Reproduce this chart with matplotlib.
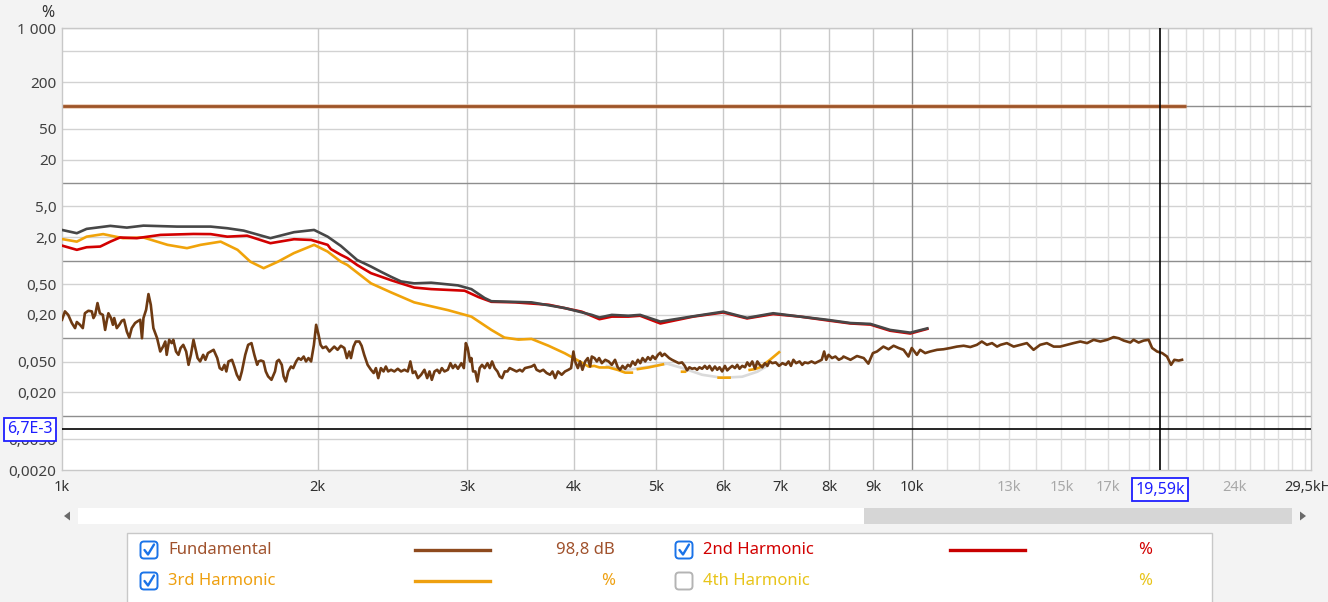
import numpy as np
import matplotlib.pyplot as plt
from matplotlib.patches import Rectangle, FancyBboxPatch, Polygon
from matplotlib.lines import Line2D
from matplotlib.transforms import blended_transform_factory

plt.rcParams['font.family'] = ['Noto Sans', 'DejaVu Sans']

# --- DATA (frequency in Hz, level in %) ---
fund_pct = 100.0
fund_hz = [1000, 21000]

noise_hz = [
    1000, 1008, 1017, 1027, 1036, 1041, 1050, 1058, 1064, 1074, 1084, 1089, 1094, 1101, 1108,
    1117, 1124, 1129, 1134, 1142, 1148, 1152, 1160, 1168, 1176, 1183, 1192, 1200, 1208, 1219,
    1227, 1236, 1242, 1247, 1256, 1264, 1272, 1281, 1294, 1305, 1315, 1323, 1328, 1337, 1346,
    1352, 1362, 1371, 1379, 1389, 1400, 1409, 1418, 1428, 1435, 1444, 1454, 1466, 1475, 1485,
    1496, 1508, 1523, 1533, 1543, 1553, 1561, 1570, 1585, 1595, 1606, 1618, 1628, 1643, 1656,
    1671, 1684, 1697, 1703, 1714, 1726, 1737, 1748, 1764, 1781, 1790, 1800, 1814, 1823, 1834,
    1846, 1860, 1871, 1886, 1898, 1911, 1925, 1937, 1950, 1964, 1979, 1991, 2004, 2015, 2027,
    2045, 2064, 2091, 2110, 2129, 2149, 2164, 2178, 2188, 2203, 2217, 2238, 2252, 2268, 2289,
    2310, 2327, 2341, 2356, 2373, 2390, 2405, 2420, 2439, 2461, 2484, 2506, 2529, 2552, 2570,
    2587, 2604, 2623, 2646, 2670, 2690, 2707, 2724, 2744, 2764, 2781, 2799, 2819, 2845, 2865,
    2884, 2902, 2924, 2951, 2971, 2987, 3002, 3021, 3032, 3046, 3065, 3082, 3101, 3121, 3143,
    3167, 3187, 3207, 3230, 3254, 3274, 3295, 3319, 3343, 3364, 3395, 3427, 3458, 3481, 3506,
    3539, 3569, 3596, 3618, 3651, 3684, 3718, 3753, 3777, 3805, 3834, 3873, 3908, 3944, 3973,
    3998, 4016, 4046, 4071, 4097, 4127, 4157, 4183, 4202, 4233, 4260, 4286, 4318, 4358, 4398,
    4436, 4475, 4508, 4537, 4567, 4600, 4634, 4663, 4693, 4727, 4761, 4792, 4822, 4857, 4893,
    4924, 4955, 4991, 5027, 5058, 5082, 5118, 5150, 5182, 5222, 5270, 5319, 5366, 5406, 5440,
    5474, 5514, 5555, 5590, 5625, 5666, 5708, 5744, 5781, 5823, 5866, 5903, 5940, 5983, 6027,
    6065, 6104, 6148, 6193, 6232, 6271, 6317, 6364, 6404, 6445, 6491, 6539, 6581, 6623, 6670,
    6719, 6761, 6804, 6854, 6917, 6980, 7043, 7108, 7161, 7208, 7256, 7310, 7378, 7432, 7481,
    7551, 7621, 7693, 7764, 7835, 7887, 7931, 7982, 8056, 8131, 8206, 8282, 8310, 8470, 8620,
    8780, 8890, 9000, 9100, 9260, 9390, 9520, 9650, 9780, 9910, 10000, 10140, 10230, 10370, 10510,
    10710, 10900, 11100, 11300, 11510, 11720, 11930, 12090, 12260, 12430, 12600, 12720, 12940, 13180, 13420,
    13660, 13910, 14160, 14420, 14690, 14950, 15220, 15500, 15790, 16080, 16370, 16670, 16980, 17280, 17520,
    17760, 18080, 18240, 18490, 18750, 19000, 19180, 19440, 19710, 19970, 20190, 20370, 20610, 20800,
]
noise_pct = [
    0.173, 0.222, 0.200, 0.157, 0.135, 0.162, 0.149, 0.135, 0.210, 0.226, 0.222, 0.182, 0.200, 0.284, 0.210,
    0.200, 0.128, 0.168, 0.210, 0.182, 0.149, 0.182, 0.135, 0.149, 0.168, 0.173, 0.122, 0.102, 0.135, 0.157,
    0.165, 0.173, 0.100, 0.182, 0.233, 0.371, 0.270, 0.135, 0.100, 0.0674, 0.078, 0.0907, 0.0611, 0.0954, 0.0865,
    0.0954, 0.0674, 0.0611, 0.0748, 0.0822, 0.0674, 0.0454, 0.0611, 0.0954, 0.0748, 0.0555, 0.0502, 0.0611, 0.0527, 0.0643,
    0.0674, 0.0709, 0.0555, 0.0412, 0.0392, 0.0454, 0.0373, 0.0502, 0.0527, 0.0432, 0.0338, 0.0291, 0.0373, 0.0611, 0.0822,
    0.0865, 0.0611, 0.0454, 0.0502, 0.0516, 0.0502, 0.0373, 0.0322, 0.0291, 0.0373, 0.0502, 0.0527, 0.0454, 0.0322, 0.0277,
    0.0373, 0.0432, 0.0412, 0.0502, 0.0555, 0.0527, 0.0581, 0.0502, 0.0555, 0.0502, 0.0822, 0.149, 0.111, 0.0822, 0.0748,
    0.078, 0.0674, 0.078, 0.0709, 0.080, 0.0748, 0.0555, 0.0674, 0.0555, 0.078, 0.0907, 0.0907, 0.080, 0.0611, 0.0454,
    0.0392, 0.0356, 0.0412, 0.0306, 0.0412, 0.0373, 0.0432, 0.0373, 0.0392, 0.0373, 0.0404, 0.0373, 0.0392, 0.0373, 0.0502,
    0.0356, 0.0373, 0.0306, 0.0338, 0.0392, 0.0306, 0.0373, 0.0291, 0.0373, 0.0392, 0.0356, 0.0412, 0.0373, 0.0392, 0.0477,
    0.0412, 0.0454, 0.0404, 0.0477, 0.0412, 0.0865, 0.0748, 0.0502, 0.0555, 0.0373, 0.0373, 0.0277, 0.0412, 0.0454, 0.0412,
    0.0477, 0.0412, 0.0502, 0.0412, 0.0373, 0.0322, 0.0306, 0.0373, 0.0373, 0.0412, 0.0392, 0.0373, 0.0392, 0.0373, 0.0412,
    0.0422, 0.0432, 0.0454, 0.0392, 0.0373, 0.0392, 0.0356, 0.0338, 0.0373, 0.0306, 0.0373, 0.0338, 0.0373, 0.0392, 0.0412,
    0.0674, 0.0502, 0.0412, 0.0502, 0.0392, 0.0502, 0.0555, 0.0432, 0.0581, 0.0555, 0.0502, 0.0555, 0.0477, 0.0527, 0.0502,
    0.0454, 0.0527, 0.0422, 0.0392, 0.0440, 0.0404, 0.0454, 0.0432, 0.0502, 0.0454, 0.0527, 0.0477, 0.0555, 0.0502, 0.0570,
    0.0527, 0.0590, 0.0540, 0.0611, 0.0650, 0.0590, 0.0630, 0.0590, 0.0555, 0.0527, 0.0502, 0.0477, 0.0488, 0.0440, 0.0385,
    0.0422, 0.0404, 0.0412, 0.0392, 0.0422, 0.0404, 0.0440, 0.0404, 0.0440, 0.0385, 0.0432, 0.0392, 0.0422, 0.0373, 0.0440,
    0.0385, 0.0412, 0.0440, 0.0412, 0.0454, 0.0404, 0.0440, 0.0422, 0.0488, 0.0440, 0.0502, 0.0404, 0.0502, 0.0454, 0.0422,
    0.0477, 0.0440, 0.0502, 0.0477, 0.0488, 0.0440, 0.0477, 0.0454, 0.0502, 0.0440, 0.0527, 0.0477, 0.0502, 0.0454, 0.0488,
    0.0477, 0.0502, 0.0477, 0.0502, 0.0527, 0.0674, 0.0527, 0.0611, 0.0555, 0.0581, 0.0527, 0.0555, 0.0581, 0.0527, 0.0590,
    0.0555, 0.0470, 0.0643, 0.0674, 0.078, 0.0721, 0.0800, 0.0748, 0.0709, 0.0581, 0.0748, 0.0611, 0.0709, 0.0643, 0.0674,
    0.0709, 0.0721, 0.0748, 0.078, 0.0800, 0.0770, 0.0822, 0.0907, 0.0822, 0.0865, 0.078, 0.0822, 0.0865, 0.078, 0.0822,
    0.0865, 0.0709, 0.0822, 0.0865, 0.078, 0.078, 0.0822, 0.0865, 0.0907, 0.0865, 0.0954, 0.0907, 0.0954, 0.1035, 0.100,
    0.0933, 0.0880, 0.0954, 0.0880, 0.0933, 0.0954, 0.0748, 0.0674, 0.0643, 0.0581, 0.0454, 0.0527, 0.0515, 0.0527,
]

thd_hz = [1000, 1041, 1069, 1140, 1192, 1247, 1366, 1496, 1565, 1636, 1759, 1875, 1980, 2054, 2129,
          2167, 2225, 2310, 2373, 2439, 2506, 2597, 2719, 2924, 3032, 3143, 3201, 3569, 3905, 4202,
          4290, 4436, 4640, 4790, 5060, 5500, 6000, 6400, 6870, 7390, 7950, 8470, 8940, 9430, 9960, 10430]
thd_pct = [2.49, 2.26, 2.57, 2.81, 2.67, 2.83, 2.75, 2.75, 2.62, 2.44, 1.95, 2.33, 2.49, 2.04, 1.55,
           1.31, 1.02, 0.84, 0.72, 0.62, 0.54, 0.51, 0.52, 0.48, 0.43, 0.33, 0.30, 0.29, 0.245, 0.20,
           0.185, 0.20, 0.195, 0.20, 0.164, 0.19, 0.22, 0.183, 0.21, 0.19, 0.173, 0.157, 0.153, 0.128, 0.118, 0.134]

h2_hz = [1000, 1041, 1069, 1109, 1140, 1170, 1225, 1306, 1428, 1496, 1565, 1651, 1759, 1875, 1964,
         2054, 2072, 2129, 2167, 2225, 2310, 2439, 2597, 2719, 2977, 3090, 3201, 3414, 3740, 4089,
         4290, 4436, 4640, 4790, 5060, 5530, 6000, 6400, 6870, 7390, 7950, 8470, 8940, 9430, 9960, 10430]
h2_pct = [1.565, 1.38, 1.49, 1.52, 1.76, 1.99, 1.95, 2.15, 2.21, 2.2, 2.04, 2.1, 1.68, 1.89, 1.85,
          1.6, 1.41, 1.19, 1.08, 0.88, 0.69, 0.56, 0.45, 0.43, 0.41, 0.34, 0.295, 0.29, 0.27, 0.22,
          0.176, 0.19, 0.19, 0.195, 0.155, 0.19, 0.215, 0.18, 0.205, 0.19, 0.17, 0.155, 0.15, 0.125, 0.115, 0.132]

h3_hz = [1000, 1041, 1069, 1118, 1180, 1247, 1331, 1403, 1456, 1537, 1609, 1666, 1727, 1795, 1874,
         1980, 2054, 2129, 2167, 2310, 2439, 2597, 2847, 3032, 3201, 3316, 3445, 3569, 3737, 3905,
         4056, 4168, 4230, 4290, 4400, 4510, 4600, 4684, 4720, 4761, 4900, 5095, 5200, 5366, 5410,
         5600, 5925, 6104, 6300, 6445, 6539, 6623, 6800, 6980]
h3_pct = [1.9, 1.76, 2.04, 2.2, 1.95, 1.99, 1.6, 1.45, 1.6, 1.76, 1.38, 0.97, 0.8, 0.97, 1.25,
          1.6, 1.31, 0.97, 0.88, 0.51, 0.39, 0.29, 0.23, 0.19, 0.128, 0.102, 0.096, 0.098, 0.08, 0.064,
          0.051, 0.043, 0.044, 0.042, 0.042, 0.039, 0.036, 0.036, np.nan, 0.040, 0.042, 0.046, np.nan, 0.037, 0.037,
          np.nan, 0.031, 0.031, np.nan, 0.039, 0.040, 0.042, 0.052, 0.066]

h5_hz = [4377, 4621, 4879, 5152, 5366, 5666, 5983, 6317, 6581, 6761]
h5_pct = [0.044, 0.039, 0.0427, 0.047, 0.0414, 0.0338, 0.0309, 0.0319, 0.037, 0.044]

cursor_hz = 19590
cursor_pct = 6.7e-3

x_ticks = [1000, 2000, 3000, 4000, 5000, 6000, 7000, 8000, 9000, 10000, 13000, 15000, 17000, 24000, 29500]
x_labels = ['1k', '2k', '3k', '4k', '5k', '6k', '7k', '8k', '9k', '10k', '13k', '15k', '17k', '24k', '29,5kHz']
x_faint = ['13k', '15k', '17k', '24k']
y_ticks = [1000, 200, 50, 20, 5, 2, 0.5, 0.2, 0.05, 0.02, 0.005, 0.002]
y_labels = ['1 000', '200', '50', '20', '5,0', '2,0', '0,50', '0,20', '0,050', '0,020', '0,0050', '0,0020']

# --- FIGURE ---
W, H = 1328, 602
BG = '#f3f3f3'
fig = plt.figure(figsize=(W / 100, H / 100), dpi=100, facecolor=BG)
ax = fig.add_axes([62 / W, 1 - 470 / H, (1311 - 62) / W, (470 - 28) / H])
ax.set_xscale('log')
ax.set_yscale('log')
ax.set_xlim(1000, 29500)
ax.set_ylim(0.002, 1000)
ax.set_facecolor('white')

# grid
for d in [1000, 500, 200, 50, 20, 5, 2, 0.5, 0.2, 0.05, 0.02, 0.005]:
    ax.axhline(d, color='#d2d2d2', lw=1, zorder=0.5)
for d in [100, 10, 1, 0.1, 0.01]:
    ax.axhline(d, color='#8e8e8e', lw=1, zorder=0.6)
for f in range(2000, 10000, 1000):
    ax.axvline(f, color='#c9c9c9', lw=1, zorder=0.5)
for f in range(11000, 30000, 1000):
    ax.axvline(f, color='#b9b9b9' if f == 20000 else '#dfdfdf', lw=1, zorder=0.5)
ax.axvline(10000, color='#8a8a8a', lw=1, zorder=0.6)

# curves
LW = 1.9
ax.plot(fund_hz, [fund_pct, fund_pct], color='#e2b79a', lw=3.4, alpha=0.7, zorder=2, solid_capstyle='butt')
ax.plot(fund_hz, [fund_pct, fund_pct], color='#9e5428', lw=2.0, zorder=2.1, solid_capstyle='butt')
ax.plot(h5_hz, h5_pct, color='#dadada', lw=LW, zorder=2)
ax.plot(h3_hz, h3_pct, color='#f0a30a', lw=LW, zorder=3)
ax.plot(h2_hz, h2_pct, color='#d20000', lw=LW, zorder=4)
ax.plot(thd_hz, thd_pct, color='#474747', lw=LW, zorder=5)
ax.plot(noise_hz, noise_pct, color='#6e3a12', lw=LW, zorder=6)

# cursor
ax.axhline(cursor_pct, color='black', lw=1.2, zorder=7)
ax.axvline(cursor_hz, color='black', lw=1.2, zorder=7)

# ticks
ax.set_xticks(x_ticks)
ax.set_xticklabels(x_labels)
ax.xaxis.set_minor_locator(plt.NullLocator())
ax.set_yticks(y_ticks)
ax.set_yticklabels(y_labels)
ax.yaxis.set_minor_locator(plt.NullLocator())
ax.tick_params(axis='x', length=0, pad=7, labelsize=10.5, labelcolor='#303030')
ax.tick_params(axis='y', length=0, pad=4, labelsize=11, labelcolor='#404040')
for lbl in ax.get_xticklabels():
    lbl.set_fontweight('bold')
    if lbl.get_text() in x_faint:
        lbl.set_color('#a8a8a8')
        lbl.set_fontweight('normal')
for sp in ax.spines.values():
    sp.set_color('#c8c8c8')
    sp.set_linewidth(1)

fig.text(48 / W, 1 - 13 / H, '%', ha='center', va='center', fontsize=11.5, color='#303030', fontweight='bold')

# cursor read-outs
box = dict(boxstyle='square,pad=0.22', fc='white', ec='#1f1fff', lw=1.3)
ax.text(-0.0256, cursor_pct, '6,7E-3', transform=blended_transform_factory(ax.transAxes, ax.transData),
        ha='center', va='center', color='#1f1fff', fontsize=11.5, bbox=box, clip_on=False, zorder=10)
ax.text(cursor_hz, -0.045, '19,59k', transform=blended_transform_factory(ax.transData, ax.transAxes),
        ha='center', va='center', color='#1f1fff', fontsize=11.5, bbox=box, clip_on=False, zorder=10)

# --- UI overlay (scrollbar + legend panel), pixel coordinates ---
ui = fig.add_axes([0, 0, 1, 1], zorder=5)
ui.set_xlim(0, W)
ui.set_ylim(H, 0)
ui.axis('off')
ui.patch.set_alpha(0)

ui.add_patch(Rectangle((78, 508), 786, 16, fc='white', ec='none'))
ui.add_patch(Rectangle((864, 508), 428, 16, fc='#d6d6d6', ec='none'))
ui.add_patch(Polygon([(64, 516), (70, 511.5), (70, 520.5)], closed=True, fc='#6a6a6a', ec='none'))
ui.add_patch(Polygon([(1306, 516), (1300, 511.5), (1300, 520.5)], closed=True, fc='#6a6a6a', ec='none'))

ui.add_patch(Rectangle((127, 533), 1085, 90, fc='white', ec='#c8c8c8', lw=1))


def checkbox(x, y, checked):
    ec = '#1a73e8' if checked else '#b4b4b4'
    ui.add_patch(FancyBboxPatch((x - 8.5, y - 8.5), 17, 17, boxstyle='round,pad=0,rounding_size=3.5',
                                fc='white', ec=ec, lw=1.4))
    if checked:
        ui.add_line(Line2D([x - 4.5, x - 1, x + 5], [y, y + 4.5, y - 5.5], color='#1a73e8', lw=1.7,
                           solid_capstyle='round', solid_joinstyle='round'))


legend_rows = [
    (149, 550, True, 'Fundamental', '#a0522d', '#8e4a1e', '98,8 dB', 615),
    (684, 550, True, '2nd Harmonic', '#d20000', '#c80000', '%', 1152),
    (149, 581, True, '3rd Harmonic', '#eea010', '#eea010', '%', 615),
    (684, 581, False, '4th Harmonic', '#e8c419', None, '%', 1152),
]
for cx, cy, checked, name, tcol, lcol, val, vx in legend_rows:
    checkbox(cx, cy, checked)
    ui.text(cx + 19, cy, name, ha='left', va='center', fontsize=12, color=tcol)
    if lcol:
        ui.add_line(Line2D([cx + 266, cx + 341], [cy, cy], color=lcol, lw=2.4))
    ui.text(vx, cy, val, ha='right', va='center', fontsize=12, color=tcol)

fig.savefig('out.png', dpi=100, facecolor=BG)
